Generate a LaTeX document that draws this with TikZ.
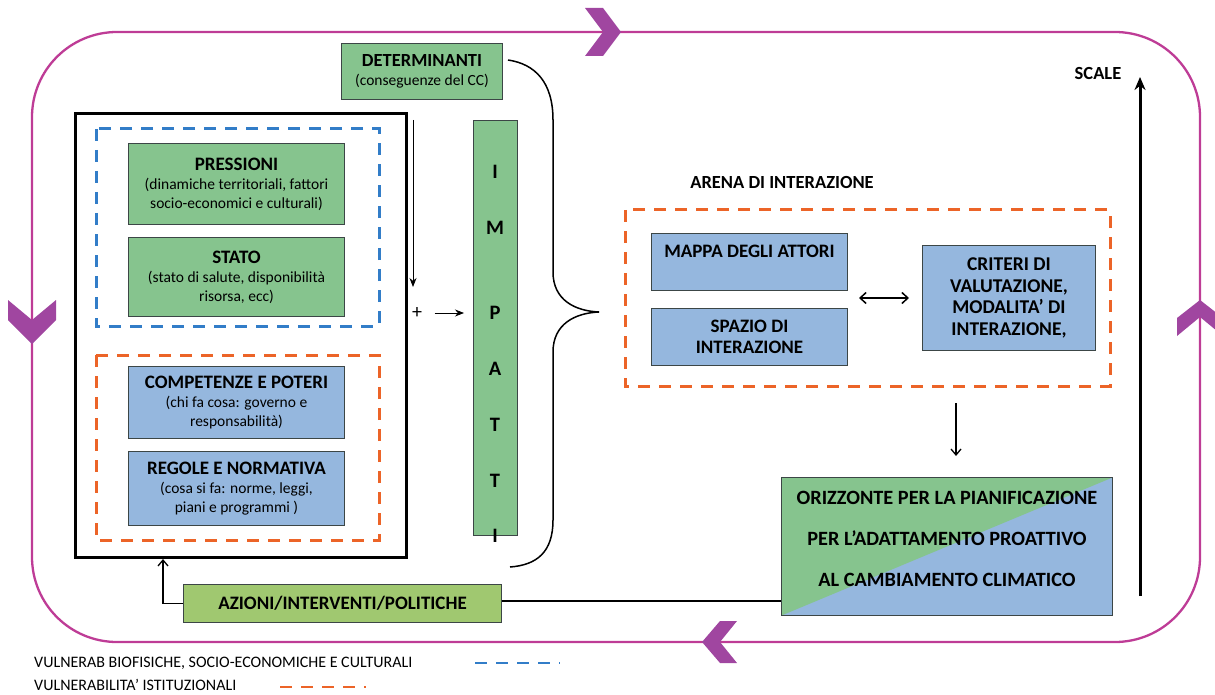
\documentclass[tikz,border=0pt]{standalone}
\usepackage{fontspec}
\setmainfont{Carlito}
\usetikzlibrary{arrows.meta}
\definecolor{boxgreen}{RGB}{134,196,142}
\definecolor{boxblue}{RGB}{149,183,222}
\definecolor{boxolive}{RGB}{160,200,112}
\definecolor{boxline}{RGB}{60,70,70}
\definecolor{dashblue}{RGB}{50,125,200}
\definecolor{dashorange}{RGB}{236,100,40}
\definecolor{loopline}{RGB}{190,60,150}
\definecolor{chevron}{RGB}{160,70,160}
\begin{document}
\begin{tikzpicture}[x=1pt,y=-1pt,
  box/.style={draw=boxline, line width=1pt, align=center, inner sep=2pt, anchor=north west},
  gbox/.style={box, fill=boxgreen},
  bbox/.style={box, fill=boxblue},
  txt/.style={font=\fontsize{15.5}{19}\selectfont},
  bdash/.style={draw=dashblue, line width=3pt, dash pattern=on 12pt off 9pt},
  odash/.style={draw=dashorange, line width=3pt, dash pattern=on 12pt off 9pt},
  conn/.style={draw=black, line width=1pt, -{Stealth[length=9pt,width=7pt]}},
  barb/.style={draw=black, line width=1.3pt, -{Straight Barb[length=6pt,width=10pt]}},
  chev/.style={fill=chevron},
  letter/.style={font=\bfseries\fontsize{20.5}{20}\selectfont},
  ttl/.style={font=\bfseries\fontsize{19}{20}\selectfont}
]
\useasboundingbox (0,0) rectangle (1215,695);

% outer loop
\draw[loopline, line width=2.3pt, rounded corners=85pt] (32,32) rectangle (1200,642);
\path[chev] (585,8) -- (603,8) -- (621,32) -- (603,56) -- (585,56) -- (603,32) -- cycle;
\path[chev] (8,300) -- (32,320) -- (56,300) -- (56,320) -- (32,344) -- (8,320) -- cycle;
\path[chev] (1177,336) -- (1200,317) -- (1223,336) -- (1223,318) -- (1200,300) -- (1177,318) -- cycle;
\path[chev] (720,621) -- (737,621) -- (720,642) -- (737,663) -- (720,663) -- (702,642) -- cycle;

% left block
\node[draw=black, line width=3pt, minimum width=331, minimum height=444, anchor=north west] (big) at (74,112) {};
\draw[bdash] (96,129) rectangle (379,326);
\draw[odash] (96,355) rectangle (379,540);

\node[gbox, minimum width=216, minimum height=81, txt] (press) at (128,143)
  {{\bfseries\fontsize{19}{19}\selectfont PRESSIONI}\\(dinamiche territoriali, fattori\\socio-economici e culturali)};
\node[gbox, minimum width=216, minimum height=79, txt] (stato) at (128,237)
  {{\bfseries\fontsize{19}{19}\selectfont STATO}\\(stato di salute, disponibilità\\risorsa, ecc)};
\node[bbox, minimum width=216, minimum height=72, txt] (comp) at (128,366)
  {{\bfseries\fontsize{19}{19}\selectfont COMPETENZE E POTERI}\\(chi fa cosa: governo e\\responsabilità)};
\node[bbox, minimum width=216, minimum height=74, txt] (regole) at (128,451)
  {{\bfseries\fontsize{19}{19}\selectfont REGOLE E NORMATIVA}\\(cosa si fa: norme, leggi,\\piani e programmi )};

% determinanti
\node[gbox, minimum width=161, minimum height=56, font=\fontsize{15.5}{19}\selectfont] (det) at (341,43)
  {{\bfseries\fontsize{18.5}{19}\selectfont DETERMINANTI}\\(conseguenze del CC)};

% impatti bar
\node[gbox, minimum width=44, minimum height=415] (imp) at (473,120) {};
\node[letter] (l1) at (495,172) {I};
\node[letter] (l2) at (495,228) {M};
\node[letter] (l3) at (495,313) {P};
\node[letter] (l4) at (495,369) {A};
\node[letter] (l5) at (495,425) {T};
\node[letter] (l6) at (495,481) {T};
\node[letter] (l7) at (495,536) {I};

\coordinate (dtop) at (413,120);
\coordinate (dbot) at (413,287);
\draw[conn, line width=0.8pt] (dtop) -- (dbot);
\node[font=\fontsize{20}{20}\selectfont] (plus) at (417,313) {+};
\draw[conn, line width=0.8pt, shorten <=9pt, shorten >=9pt] (plus.east) -- (imp.west |- plus.east);

% brace
\draw[line width=1.5pt] (508,60) .. controls (535,64) and (553,82) .. (553,120)
  -- (553,272) .. controls (553,300) and (575,311) .. (599,312)
  .. controls (575,313) and (553,324) .. (553,352)
  -- (553,520) .. controls (553,552) and (537,565) .. (510,567);

% azioni
\node[box, fill=boxolive, minimum width=318, minimum height=38, ttl] (az) at (183,584) {AZIONI/INTERVENTI/POLITICHE};
\draw[barb] (az.west) -| ([xshift=89pt]big.south west);

% arena
\node[font=\bfseries\fontsize{18.5}{20}\selectfont] (arena) at (782,182) {ARENA DI INTERAZIONE};
\draw[odash] (625,210) rectangle (1110,386);
\node[bbox, minimum width=196, minimum height=57, font=\bfseries\fontsize{19}{22}\selectfont] (mappa) at (651,233)
  {MAPPA DEGLI ATTORI\\\mbox{}};
\node[bbox, minimum width=196, minimum height=57, font=\bfseries\fontsize{19}{20.5}\selectfont] (spazio) at (651,308)
  {SPAZIO DI\\INTERAZIONE};
\node[bbox, minimum width=173, minimum height=105, font=\bfseries\fontsize{19.5}{21.7}\selectfont] (crit) at (922,245)
  {CRITERI DI\\VALUTAZIONE,\\MODALITA’ DI\\INTERAZIONE,};
\draw[line width=1.5pt, {Straight Barb[length=6pt,width=11pt]}-{Straight Barb[length=6pt,width=11pt]}, shorten <=11pt, shorten >=13pt]
  (crit.west -| mappa.east) -- (crit.west);

% orizzonte
\node[box, minimum width=331, minimum height=138, font=\bfseries\fontsize{20.3}{41}\selectfont,
  path picture={
    \fill[boxblue] (path picture bounding box.south west) rectangle (path picture bounding box.north east);
    \fill[boxgreen] (path picture bounding box.south west) -- (path picture bounding box.north west) -- (path picture bounding box.north east) -- cycle;}
  ] (oriz) at (781,477)
  {ORIZZONTE PER LA PIANIFICAZIONE\\PER L’ADATTAMENTO PROATTIVO\\AL CAMBIAMENTO CLIMATICO\\[-25pt]\mbox{}};
\coordinate (atop) at (956,403);
\coordinate (abot) at (956,456);
\draw[barb] (atop) -- (abot);
\draw[line width=1.2pt] (az.east |- 0,601) -- (oriz.west |- 0,601);

% scale
\node[font=\bfseries\fontsize{18.5}{20}\selectfont] (scale) at (1098,73) {SCALE};
\coordinate (sbot) at (1140,596);
\coordinate (stop) at (1140,77);
\draw[line width=3pt, -{Stealth[length=13pt,width=11pt]}] (sbot) -- (stop);

% legend
\node[anchor=west, inner sep=1pt, font=\fontsize{16}{17}\selectfont] (leg1) at (33,663) {VULNERAB BIOFISICHE, SOCIO-ECONOMICHE E CULTURALI};
\node[anchor=west, inner sep=1pt, font=\fontsize{16}{17}\selectfont] (leg2) at (33,685) {VULNERABILITA’ ISTITUZIONALI};
\coordinate (b1) at (475,663);
\coordinate (b2) at (560,663);
\coordinate (o1) at (280,687);
\coordinate (o2) at (366,687);
\draw[bdash, line width=2.5pt] (b1) -- (b2);
\draw[odash, line width=2.5pt] (o1) -- (o2);
\end{tikzpicture}
\end{document}
